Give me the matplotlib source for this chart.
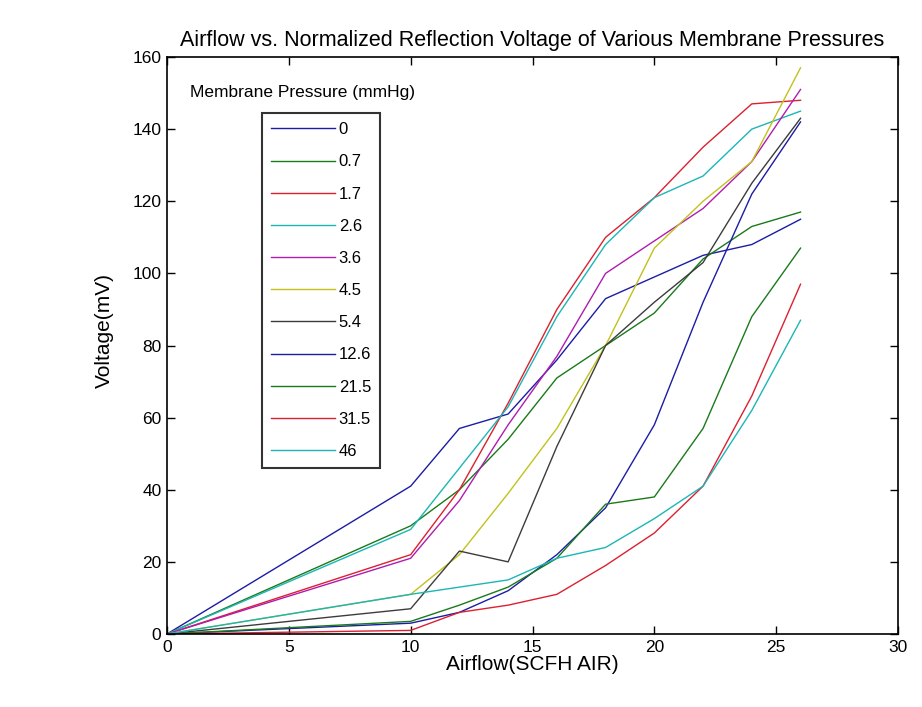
import matplotlib
matplotlib.use("Agg")
import matplotlib.pyplot as plt

plt.rcParams['font.family'] = ['Liberation Sans', 'DejaVu Sans']

airflow = [0, 10, 12, 14, 16, 18, 20, 22, 24, 26]
pressures = ["0", "0.7", "1.7", "2.6", "3.6", "4.5", "5.4", "12.6", "21.5", "31.5", "46"]

v_0    = [0, 41, 57, 61, 76, 93, 99, 105, 108, 115]
v_0_7  = [0, 30, 40, 54, 71, 80, 89, 104, 113, 117]
v_1_7  = [0, 22, 40, 64, 90, 110, 121, 135, 147, 148]
v_2_6  = [0, 29, 46, 63, 88, 108, 121, 127, 140, 145]
v_3_6  = [0, 21, 37, 58, 77, 100, 109, 118, 131, 151]
v_4_5  = [0, 11, 22, 39, 57, 80, 107, 120, 131, 157]
v_5_4  = [0, 7, 23, 20, 52, 80, 92, 103, 125, 143]
v_12_6 = [0, 3, 6, 12, 22, 35, 58, 92, 122, 142]
v_21_5 = [0, 3.5, 8, 13, 21, 36, 38, 57, 88, 107]
v_31_5 = [0, 1, 6, 8, 11, 19, 28, 41, 66, 97]
v_46   = [0, 11, 13, 15, 21, 24, 32, 41, 62, 87]

series = [v_0, v_0_7, v_1_7, v_2_6, v_3_6, v_4_5, v_5_4, v_12_6, v_21_5, v_31_5, v_46]

color_order = ['#1c1ca6', '#1a7a1a', '#dc2030', '#1cb6b6', '#b01cb0', '#c2c21c', '#3c3c3c']

fig = plt.figure(figsize=(9.22, 7.07), dpi=100)
ax = fig.add_axes([167/922, 1-634/707, (898-167)/922, (634-57)/707])

for i, (lab, vals) in enumerate(zip(pressures, series)):
    ax.plot(airflow, vals, color=color_order[i % len(color_order)], lw=1.0, label=lab)

ax.set_xlim(0, 30)
ax.set_ylim(0, 160)
ax.set_xticks(range(0, 31, 5))
ax.set_yticks(range(0, 161, 20))
ax.tick_params(direction='in', top=True, right=True, length=6, width=1,
               labelsize=12.5, pad=4)
for s in ax.spines.values():
    s.set_linewidth(1.2)

ax.set_title("Airflow vs. Normalized Reflection Voltage of Various Membrane Pressures",
             fontsize=15.5, pad=8)
ax.set_xlabel("Airflow(SCFH AIR)", fontsize=15, labelpad=0)
ax.set_ylabel("Voltage(mV)", fontsize=15)
ax.yaxis.set_label_coords(-(167-114)/731, 1-(331-57)/577)

ax.text((190-167)/731, 1-(92-57)/577, "Membrane Pressure (mmHg)", transform=ax.transAxes,
        fontsize=12.5, va='center', ha='left')

leg = ax.legend(loc='upper left', bbox_to_anchor=(262/922, 1-113/707),
                bbox_transform=fig.transFigure, frameon=True, fancybox=False,
                fontsize=12, handlelength=3.8, handletextpad=0.25,
                labelspacing=1.03, borderpad=0.55, borderaxespad=0)
leg.get_frame().set_edgecolor('black')
leg.get_frame().set_linewidth(1.5)

fig.savefig("out.png", dpi=100)
